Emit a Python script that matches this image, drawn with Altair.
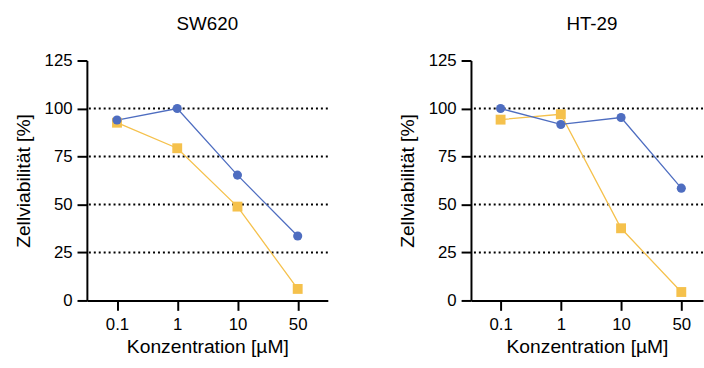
import altair as alt
import pandas as pd

concs = ["0.1", "1", "10", "50"]
series = ["Gelb", "Blau"]
sw620_blue = [94, 100, 65.3, 33.6]
sw620_yellow = [92.6, 79.3, 48.9, 6.0]
ht29_blue = [100, 91.7, 95.3, 58.5]
ht29_yellow = [94.2, 97.0, 37.6, 4.4]
grid_values = [25, 50, 75, 100]
y_ticks = [0, 25, 50, 75, 100, 125]

FONT = "Liberation Sans"
BLUE = "#4E6DC0"
YELLOW = "#F5C14C"


def make_df(blue, yellow):
    rows = []
    for c, v in zip(concs, yellow):
        rows.append({"conc": c, "series": "Gelb", "value": v})
    for c, v in zip(concs, blue):
        rows.append({"conc": c, "series": "Blau", "value": v})
    return pd.DataFrame(rows)


grid_df = pd.DataFrame({"g": grid_values})
yscale = alt.Scale(domain=[0, 125], nice=False, zero=True)
color_scale = alt.Scale(domain=series, range=[YELLOW, BLUE])
shape_scale = alt.Scale(domain=series, range=["square", "circle"])
size_scale = alt.Scale(domain=series, range=[100, 85])


def panel(title, blue, yellow, width, xscale, title_dx=0):
    df = make_df(blue, yellow)
    x = alt.X("conc:O", sort=concs, scale=xscale,
              axis=alt.Axis(title="Konzentration [µM]", labelAngle=0))
    y = alt.Y("value:Q", scale=yscale,
              axis=alt.Axis(title="Zellviabilität [%]", values=y_ticks))
    rules = alt.Chart(grid_df).mark_rule(
        strokeDash=[2, 3], strokeWidth=2, color="black"
    ).encode(y=alt.Y("g:Q", scale=yscale))
    base = alt.Chart(df)
    lines = base.mark_line(strokeWidth=1.3).encode(
        x=x, y=y,
        color=alt.Color("series:N", scale=color_scale, legend=None),
        detail="series:N",
    )
    pts = base.mark_point(filled=True, opacity=1).encode(
        x=x, y=y,
        color=alt.Color("series:N", scale=color_scale, legend=None),
        shape=alt.Shape("series:N", scale=shape_scale, legend=None),
        size=alt.Size("series:N", scale=size_scale, legend=None),
    )
    return alt.layer(rules, lines, pts).properties(
        width=width, height=243,
        title=alt.TitleParams(title, fontSize=19, font=FONT, fontWeight="normal",
                              color="black", offset=18, dx=title_dx),
    )


left = panel("SW620", sw620_blue, sw620_yellow, 244,
             alt.Scale(type="point", domain=concs, padding=0.5))
right = panel("HT-29", ht29_blue, ht29_yellow, 235,
              alt.Scale(type="point", domain=concs, padding=0.426, align=0.577),
              title_dx=5)

chart = alt.hconcat(left, right, spacing=69).properties(
    padding={"left": 13, "top": 13, "right": 0, "bottom": 0}
).configure_view(stroke=None).configure_axis(
    domainColor="black", domainWidth=2, tickColor="black", tickWidth=2,
    tickSize=10, labelFont=FONT, labelFontSize=17, labelColor="black",
    titleFont=FONT, titleFontSize=19.5, titleFontWeight="normal",
    titleColor="black", grid=False,
).configure_axisY(labelPadding=5, titlePadding=11).configure_axisX(
    labelPadding=6, titlePadding=6
)

chart.save("out.html", embed_options={"renderer": "svg", "actions": False})
